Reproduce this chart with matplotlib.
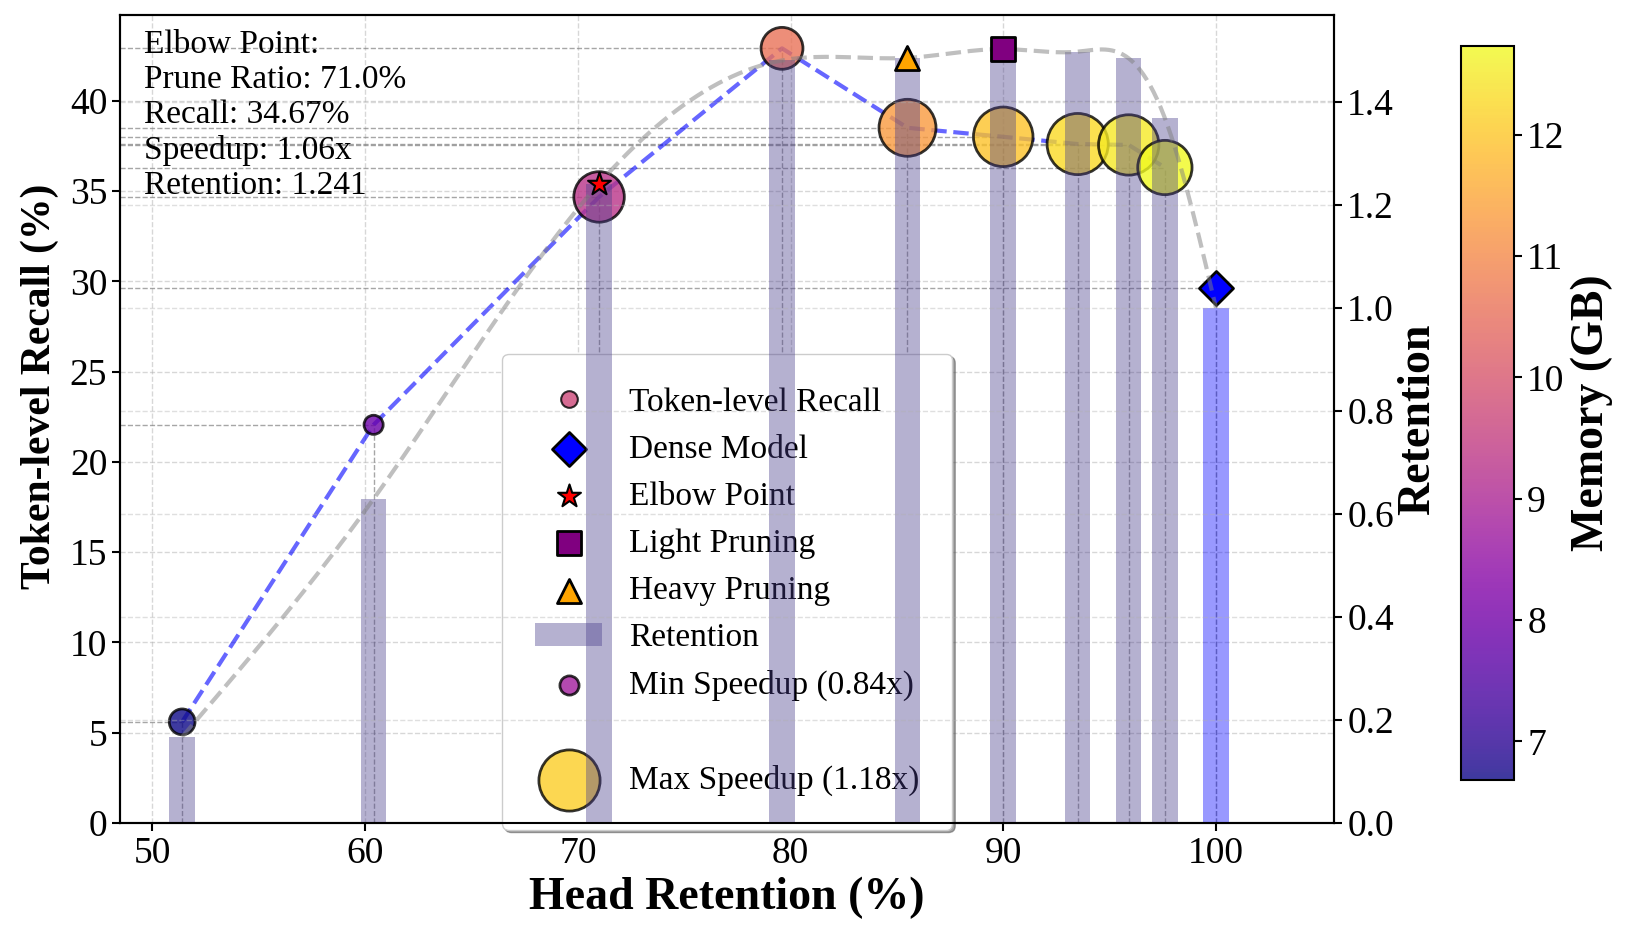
import numpy as np
import matplotlib
matplotlib.use('Agg')
import matplotlib.pyplot as plt
from matplotlib.lines import Line2D

plt.rcParams['font.family'] = ['Liberation Serif', 'DejaVu Serif']

# Pruned configurations (head retention %, token-level recall %, retention ratio, speedup, memory GB)
head_ret = [51.4, 60.4, 71.0, 79.6, 85.5, 90.0, 93.5, 95.9, 97.6]
recall = [5.6, 22.05, 34.67, 42.9, 38.5, 38.0, 37.6, 37.55, 36.3]
retention = [0.167, 0.629, 1.241, 1.48, 1.485, 1.502, 1.497, 1.484, 1.368]
speedup = [0.87, 0.84, 1.06, 0.98, 1.13, 1.16, 1.18, 1.17, 1.10]
memory = [6.68, 7.9, 9.3, 10.6, 11.3, 11.95, 12.3, 12.5, 12.73]

# Dense model
dense_x = 100.0
dense_recall = 29.6
dense_retention = 1.0

# Special points
elbow_idx = 2
light_idx = 5
heavy_idx = 4

x = np.array(head_ret)
y = np.array(recall)
r = np.array(retention)
sp = np.array(speedup)
mem = np.array(memory)

s_min, s_max = 190, 1940
sizes = s_min + (sp - sp.min()) / (sp.max() - sp.min()) * (s_max - s_min)


def natural_spline(xk, yk, xs):
    n = len(xk)
    h = np.diff(xk)
    A = np.zeros((n, n))
    b = np.zeros(n)
    A[0, 0] = 1
    A[-1, -1] = 1
    for i in range(1, n - 1):
        A[i, i - 1] = h[i - 1]
        A[i, i] = 2 * (h[i - 1] + h[i])
        A[i, i + 1] = h[i]
        b[i] = 3 * ((yk[i + 1] - yk[i]) / h[i] - (yk[i] - yk[i - 1]) / h[i - 1])
    c = np.linalg.solve(A, b)
    bb = (yk[1:] - yk[:-1]) / h - h * (2 * c[:-1] + c[1:]) / 3
    d = (c[1:] - c[:-1]) / (3 * h)
    idx = np.clip(np.searchsorted(xk, xs) - 1, 0, n - 2)
    t = xs - xk[idx]
    return yk[idx] + bb[idx] * t + c[idx] * t ** 2 + d[idx] * t ** 3


fig = plt.figure(figsize=(16.28, 9.4), dpi=100)
ax1 = fig.add_axes([0.074, 0.1245, 0.7454, 0.860])
ax2 = ax1.twinx()
cax = fig.add_axes([0.8974, 0.170, 0.0326, 0.781])

xmin, xmax = 48.5, 105.55
ax1.set_xlim(xmin, xmax)
ax1.set_ylim(0, 44.77)
ax2.set_ylim(0, 1.569)

ax1.grid(True, linestyle='--', alpha=0.5, linewidth=1)
ax2.yaxis.grid(True, linestyle='--', alpha=0.4, linewidth=1)

# guide lines
all_x = np.append(x, dense_x)
all_y = np.append(y, dense_recall)
ax1.hlines(all_y, xmin, all_x, colors='gray', linestyles='--', linewidth=1, alpha=0.7)
ax1.vlines(all_x, 0, all_y, colors='gray', linestyles='--', linewidth=1, alpha=0.7)

ax1.plot(x, y, '--', color='blue', alpha=0.6, linewidth=3, zorder=2)
sc = ax1.scatter(x, y, s=sizes, c=mem, cmap='plasma', alpha=0.8,
                 edgecolors='black', linewidths=2, zorder=3)
dense = ax1.scatter([dense_x], [dense_recall], marker='D', s=300, color='blue',
                    edgecolors='black', linewidths=2, zorder=4, label='Dense Model')

# retention bars and smoothed curve
bars = ax2.bar(x, r, width=1.2, color='darkslateblue', alpha=0.4, label='Retention')
ax2.bar([dense_x], [dense_retention], width=1.2, color='blue', alpha=0.4)
all_r = np.append(r, dense_retention)
xs = np.linspace(all_x.min(), all_x.max(), 300)
ax2.plot(xs, natural_spline(all_x, all_r, xs), '--', color='gray', alpha=0.5, linewidth=3)

elbow = ax2.scatter([x[elbow_idx]], [r[elbow_idx]], marker='*', s=300, color='red',
                    edgecolors='black', linewidths=1.5, zorder=5, label='Elbow Point')
light = ax2.scatter([x[light_idx]], [r[light_idx]], marker='s', s=300, color='purple',
                    edgecolors='black', linewidths=2, zorder=5, label='Light Pruning')
heavy = ax2.scatter([x[heavy_idx]], [r[heavy_idx]], marker='^', s=300, color='orange',
                    edgecolors='black', linewidths=2, zorder=5, label='Heavy Pruning')

ax1.text(0.019, 0.982,
         f'Elbow Point:\nPrune Ratio: {x[elbow_idx]:.1f}%\nRecall: {y[elbow_idx]:.2f}%\n'
         f'Speedup: {sp[elbow_idx]:.2f}x\nRetention: {r[elbow_idx]:.3f}',
         transform=ax1.transAxes, va='top', ha='left', fontsize=24)

cmap = plt.get_cmap('plasma')
h_recall = Line2D([], [], marker='o', linestyle='none', markersize=12,
                  markerfacecolor=cmap(0.5), markeredgecolor='black', alpha=0.8,
                  markeredgewidth=1.5)
h_min = ax1.scatter([], [], s=s_min, color=cmap(0.35), alpha=0.8, edgecolors='black', linewidths=2)
h_max = ax1.scatter([], [], s=s_max, color=cmap(0.9), alpha=0.8, edgecolors='black', linewidths=2)
h_blank = Line2D([], [], linestyle='none')
handles = [h_recall, dense, elbow, light, heavy, bars, h_min, h_blank, h_max]
labels = ['Token-level Recall', 'Dense Model', 'Elbow Point', 'Light Pruning', 'Heavy Pruning',
          'Retention', f'Min Speedup ({sp.min():.2f}x)', ' ', f'Max Speedup ({sp.max():.2f}x)']
ax1.legend(handles, labels, loc='lower center', bbox_to_anchor=(0.5, -0.029), fontsize=24,
           fancybox=True, shadow=True, framealpha=1, scatterpoints=1, borderpad=1.0)

ax1.set_xlabel('Head Retention (%)', fontsize=33, fontweight='bold')
ax1.set_ylabel('Token-level Recall (%)', fontsize=30, fontweight='bold', labelpad=8)
ax1.yaxis.label.set_y(0.54)
ax2.set_ylabel('Retention', fontsize=33, fontweight='bold', labelpad=2)

ax1.tick_params(labelsize=27, width=1.5, length=6)
ax2.tick_params(labelsize=27, width=1.5, length=6)
for ax in (ax1, ax2):
    for sp_ in ax.spines.values():
        sp_.set_linewidth(1.5)

cbar = fig.colorbar(sc, cax=cax)
cbar.set_label('Memory (GB)', fontsize=33, fontweight='bold')
cbar.ax.tick_params(labelsize=27, width=1.5, length=6)
cbar.outline.set_linewidth(1.5)

fig.savefig('out.png', dpi=100)
